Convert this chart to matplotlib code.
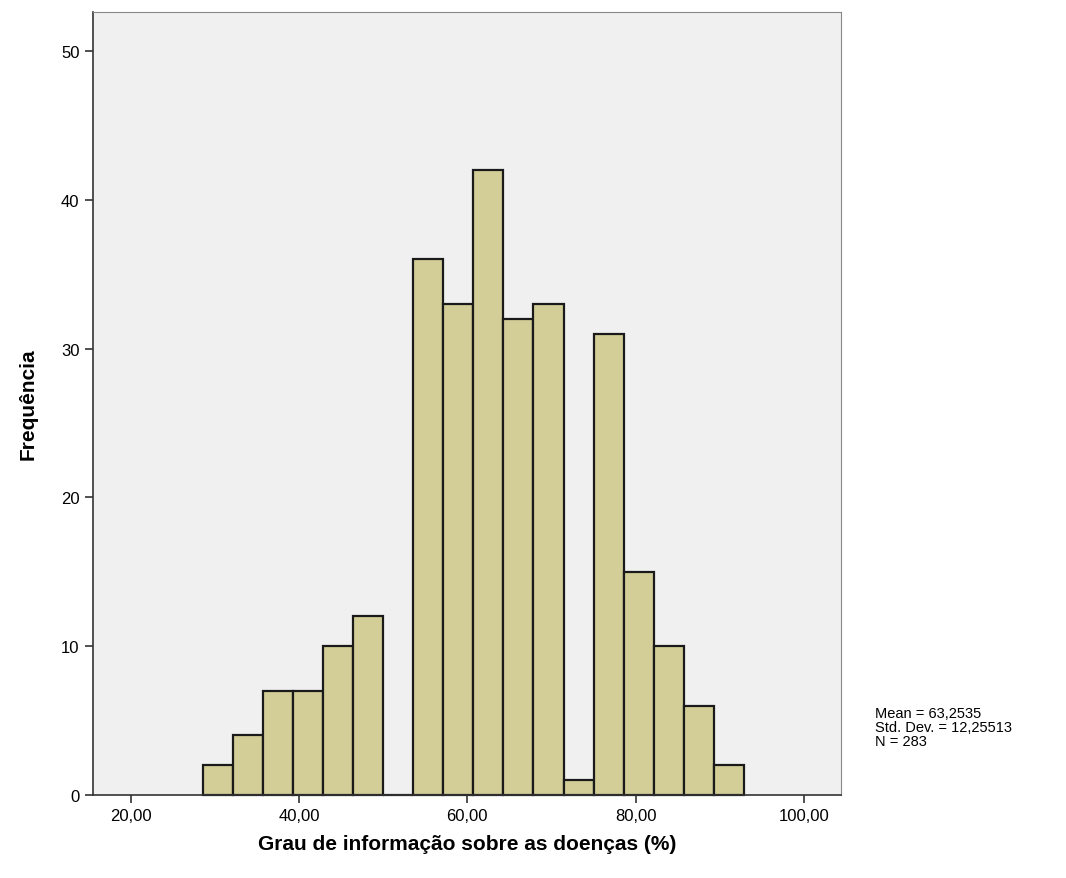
import numpy as np
import matplotlib
matplotlib.use('Agg')
import matplotlib.pyplot as plt

plt.rcParams['font.family'] = ['Liberation Sans', 'DejaVu Sans']

# histogram bins (bin width ~3.57)
bin_start = 28.57
bin_width = 3.5714
counts = [2, 4, 7, 7, 10, 12, 0, 36, 33, 42, 32, 33, 1, 31, 15, 10, 6, 2]
x_ticks = [20, 40, 60, 80, 100]
y_ticks = [0, 10, 20, 30, 40, 50]
stats_text = 'Mean = 63,2535\nStd. Dev. = 12,25513\nN = 283'

edges = bin_start + bin_width * np.arange(len(counts) + 1)

fig = plt.figure(figsize=(10.66, 8.79), dpi=100)
ax = fig.add_axes([0.087, 0.0944, 0.702, 0.8906])
ax.set_facecolor('#f0f0f0')

ax.bar(edges[:-1], counts, width=bin_width, align='edge',
       color='#d3ce98', edgecolor='#1a1a1a', linewidth=1.6, clip_on=False)

ax.set_xlim(15.5, 104.4)
ax.set_ylim(0, 52.6)
ax.set_xticks(x_ticks)
ax.set_xticklabels([f'{v:.2f}'.replace('.', ',') for v in x_ticks])
ax.set_yticks(y_ticks)
ax.tick_params(direction='out', length=6, width=1.2, labelsize=12, color='#333333')

for s in ['top', 'right']:
    ax.spines[s].set_color('#888888')
for s in ['left', 'bottom']:
    ax.spines[s].set_color('#333333')
    ax.spines[s].set_linewidth(1.2)

ax.set_xlabel('Grau de informação sobre as doenças (%)', fontsize=15,
              fontweight='bold', labelpad=8)
ax.set_ylabel('Frequência', fontsize=15, fontweight='bold', labelpad=17)

fig.text(0.821, 0.148, stats_text, fontsize=10.5, va='bottom', ha='left',
         linespacing=1.0)

fig.savefig('out.png', dpi=100)
